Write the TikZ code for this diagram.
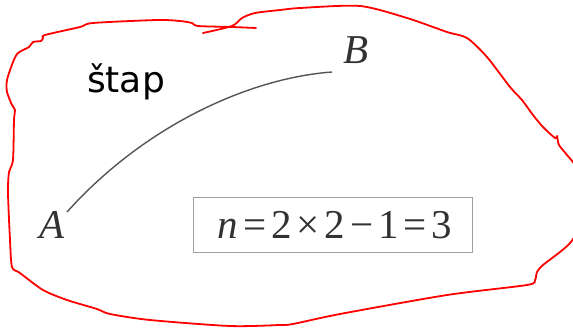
\documentclass[tikz,border=0pt]{standalone}
\usepackage{fontspec}
\setmainfont{Liberation Serif}
\newfontfamily\labelfont{DejaVu Sans}
\definecolor{inkred}{RGB}{255,0,0}
\definecolor{curvegrey}{RGB}{85,85,85}
\definecolor{textgrey}{RGB}{50,50,50}
\definecolor{boxgrey}{RGB}{160,160,160}
\newcommand{\gp}{\hspace{5pt}}
\tikzset{
  sketch/.style={draw=inkred, line width=1.8pt, line join=round, line cap=round},
  arcline/.style={draw=curvegrey, line width=1.4pt},
  ptlabel/.style={text=textgrey, font=\fontsize{41}{44}\selectfont\itshape, inner sep=0pt},
  eqbox/.style={draw=boxgrey, line width=1pt, minimum width=279pt, minimum height=55pt, inner sep=0pt},
  eqtext/.style={text=textgrey, font=\fontsize{41}{44}\selectfont, inner sep=0pt},
  wordlabel/.style={font=\labelfont\fontsize{36}{40}\selectfont, inner sep=0pt}
}
\begin{document}
\begin{tikzpicture}[x=1pt,y=-1pt]
\useasboundingbox (0,0) rectangle (573,330);
\clip (0,0) rectangle (573,330);
\fill[white] (0,0) rectangle (573,330);
% hand-drawn red outline
\draw[sketch] plot[smooth, tension=0.45] coordinates {
 (256,28) (232,27) (198,26) (192,23) (180,21) (157,20) (93,23) (80,27)
 (45,35) (43,38) (41,41) (33,42) (29,47) (18,53) (13,62) (7,80) (7,92)
 (12,105) (15,110) (14,120) (13,160) (9,172) (8,193) (10,240) (12,267)
 (20,273) (43,290) (67,300) (97,309) (110,314) (150,320) (230,326)
 (280,325) (293,324) (340,314) (447,295) (527,285) (535,280) (537,272)
 (543,265) (560,252) (570,243) (576,232) (579,200) (576,168) (567,155)
 (559,145) (557,136) (555,138) (543,127) (533,115) (522,100) (510,87)
 (487,57) (467,38) (447,32) (407,18) (360,6) (300,8) (280,10) (255,13)
 (242,18) (232,26) (203,33)};
% word
\node[wordlabel, anchor=base] (word) at (126,92) {štap};
% points and arc
\node[ptlabel, anchor=base] (A) at (52,238) {A};
\node[ptlabel, anchor=base] (B) at (356,63) {B};
\coordinate (a1) at (67,212);
\coordinate (b1) at (332,72);
\draw[arcline] (a1) .. controls (145,125) and (250,78) .. (b1);
% formula box
\node[eqbox] (box) at (332.5,224.5) {};
\node[eqtext, anchor=base] (eq) at (335,238) {{\itshape n}\gp=\gp2\gp×\gp2\gp−\gp1\gp=\gp3};
\end{tikzpicture}
\end{document}
